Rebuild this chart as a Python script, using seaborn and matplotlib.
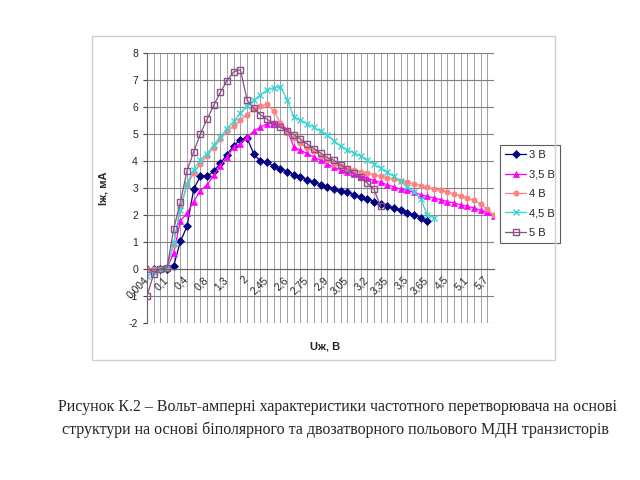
import numpy as np
import pandas as pd
import seaborn as sns
import matplotlib.pyplot as plt
import matplotlib.transforms as mtransforms
from matplotlib.patches import Rectangle

# категорії по осі U (показується кожна третя)
categories = ['0,004', '0,05', '0,08', '0,1', '0,2', '0,3', '0,4', '0,5', '0,6', '0,8',
              '0,9', '1', '1,3', '1,5', '1,8', '2', '2,2', '2,35', '2,45', '2,5',
              '2,55', '2,6', '2,65', '2,7', '2,75', '2,8', '2,85', '2,9', '2,95', '3',
              '3,05', '3,1', '3,15', '3,2', '3,25', '3,3', '3,35', '3,4', '3,45', '3,5',
              '3,55', '3,6', '3,65', '3,8', '4,1', '4,5', '4,7', '4,9', '5,1', '5,3',
              '5,5', '5,7', '5,9']

i_3v = [0, 0, 0, 0, 0.12, 1.02, 1.58, 2.96, 3.44, 3.44, 3.62, 3.92, 4.24, 4.57, 4.79,
        4.85, 4.26, 3.99, 3.95, 3.8, 3.7, 3.59, 3.49, 3.4, 3.31, 3.21, 3.12, 3.04, 2.98,
        2.9, 2.84, 2.75, 2.66, 2.59, 2.5, 2.42, 2.32, 2.26, 2.17, 2.07, 2.01, 1.89, 1.77]
i_35v = [0, 0, 0, 0.03, 0.59, 1.79, 2.07, 2.5, 2.9, 3.12, 3.47, 3.83, 4.14, 4.52, 4.64,
         4.89, 5.1, 5.26, 5.38, 5.41, 5.38, 5.16, 4.52, 4.4, 4.28, 4.15, 4.03, 3.9, 3.76,
         3.68, 3.61, 3.53, 3.46, 3.37, 3.28, 3.21, 3.12, 3.04, 2.96, 2.91, 2.84, 2.75,
         2.69, 2.63, 2.57, 2.5, 2.44, 2.38, 2.32, 2.26, 2.17, 2.1, 1.97]
i_4v = [0, 0, 0, 0.05, 0.9, 2.3, 3.1, 3.55, 3.9, 4.2, 4.5, 4.8, 5.1, 5.28, 5.53, 5.72,
        5.93, 6.05, 6.1, 5.85, 5.4, 5.04, 4.85, 4.67, 4.48, 4.36, 4.2, 4.05, 3.88, 3.8,
        3.74, 3.67, 3.61, 3.55, 3.49, 3.43, 3.38, 3.33, 3.27, 3.21, 3.15, 3.09, 3.03,
        2.97, 2.91, 2.85, 2.78, 2.71, 2.63, 2.55, 2.4, 2.21, 2.0]
i_45v = [-0.25, -0.12, 0, 0.05, 0.96, 2.2, 3.16, 3.68, 4.05, 4.27, 4.6, 4.89, 5.2, 5.47,
         5.78, 6.05, 6.25, 6.45, 6.63, 6.7, 6.75, 6.27, 5.63, 5.52, 5.38, 5.25, 5.1, 4.98,
         4.75, 4.55, 4.42, 4.3, 4.18, 4.03, 3.88, 3.73, 3.58, 3.43, 3.25, 3.05, 2.85, 2.6,
         2.01, 1.89]
i_5v = [-1, -0.19, 0, 0.05, 1.48, 2.48, 3.64, 4.34, 5.0, 5.55, 6.06, 6.55, 6.98, 7.3, 7.38,
        6.25, 5.96, 5.71, 5.55, 5.37, 5.25, 5.1, 4.97, 4.81, 4.63, 4.46, 4.3, 4.13, 4.03,
        3.86, 3.7, 3.55, 3.41, 3.18, 2.96, 2.32]

series = ['3 В', '3,5 В', '4 В', '4,5 В', '5 В']
values = [i_3v, i_35v, i_4v, i_45v, i_5v]
colors = ['#000080', '#ff00ff', '#ff8080', '#33d6d6', '#8b4f85']
markers = ['D', '^', 'o', 'x', 's']

sns.set_style('white')
plt.rcParams['font.family'] = ['Liberation Sans', 'DejaVu Sans']
plt.rcParams['axes.unicode_minus'] = False

fig = plt.figure(figsize=(6.4, 4.8), dpi=100)
ax = fig.add_axes([147 / 640, 1 - 323 / 480, 347 / 640, 270 / 480])

for name, vals, c, m in zip(series, values, colors, markers):
    df = pd.DataFrame({'pos': np.arange(len(vals)), 'I': vals})
    face = 'none' if m == 's' else c
    sns.lineplot(data=df, x='pos', y='I', ax=ax, color=c, marker=m, label=name,
                 markersize=3.8 if m != 'x' else 4.8, markerfacecolor=face,
                 markeredgecolor=c, markeredgewidth=1 if m in 'xs' else 0.5,
                 linewidth=0.9)

# вісь категорій перетинає вісь струму в нулі (спочатку, бо це скидає тіки)
ax.spines['bottom'].set_position(('data', 0))
ax.spines['bottom'].set_color('#666666')
ax.spines['left'].set_color('#666666')
ax.spines['top'].set_visible(False)
ax.spines['right'].set_visible(False)

ax.set_xlim(0, len(categories) - 1)
ax.set_ylim(-2, 8)
ax.set_yticks(range(-2, 9))
ax.set_xticks(range(len(categories)))
ax.set_xticklabels([c if k % 3 == 0 else '' for k, c in enumerate(categories)],
                   fontsize=7.5)
ax.tick_params(axis='y', labelsize=7.5, length=3, color='#444444', left=True)
ax.tick_params(axis='x', length=0, pad=4)
shift = mtransforms.ScaledTranslation(-4 / 100, 0, fig.dpi_scale_trans)
for t in ax.get_xticklabels():
    t.set_rotation(45)
    t.set_ha('right')
    t.set_va('top')
    t.set_rotation_mode('anchor')
    t.set_transform(t.get_transform() + shift)

ax.grid(True, axis='y', color='#808080', linewidth=0.8)
ax.grid(True, axis='x', color='#a0a0a0', linewidth=0.7)
ax.set_axisbelow(True)

ax.set_xlabel('Uж, В', fontsize=8, fontweight='bold')
ax.set_ylabel('Iж, мА', fontsize=8, fontweight='bold')
ax.xaxis.set_label_coords(0.513, -0.07)
ax.yaxis.set_label_coords(-0.112, 0.5)

leg = ax.legend(loc='upper left', bbox_to_anchor=(500 / 640, 1 - 145 / 480),
                bbox_transform=fig.transFigure, borderaxespad=0, fontsize=8,
                frameon=True, fancybox=False, edgecolor='#333333', handlelength=1.9,
                borderpad=0.45, labelspacing=0.85, handletextpad=0.3)
leg.get_frame().set_linewidth(0.8)

# рамка області діаграми
fig.patches.append(Rectangle((92 / 640, 1 - 360 / 480), 463 / 640, 324 / 480,
                             transform=fig.transFigure, fill=False,
                             edgecolor='#cfcfcf', linewidth=1))

fig.text(0.527, 1 - 407 / 480,
         'Рисунок К.2 – Вольт-амперні характеристики частотного перетворювача на основі',
         ha='center', va='center', fontsize=11.5, family='Liberation Serif')
fig.text(0.524, 1 - 430 / 480,
         'структури на основі біполярного та двозатворного польового МДН транзисторів',
         ha='center', va='center', fontsize=11.5, family='Liberation Serif')

plt.savefig('out.png', dpi=100)
